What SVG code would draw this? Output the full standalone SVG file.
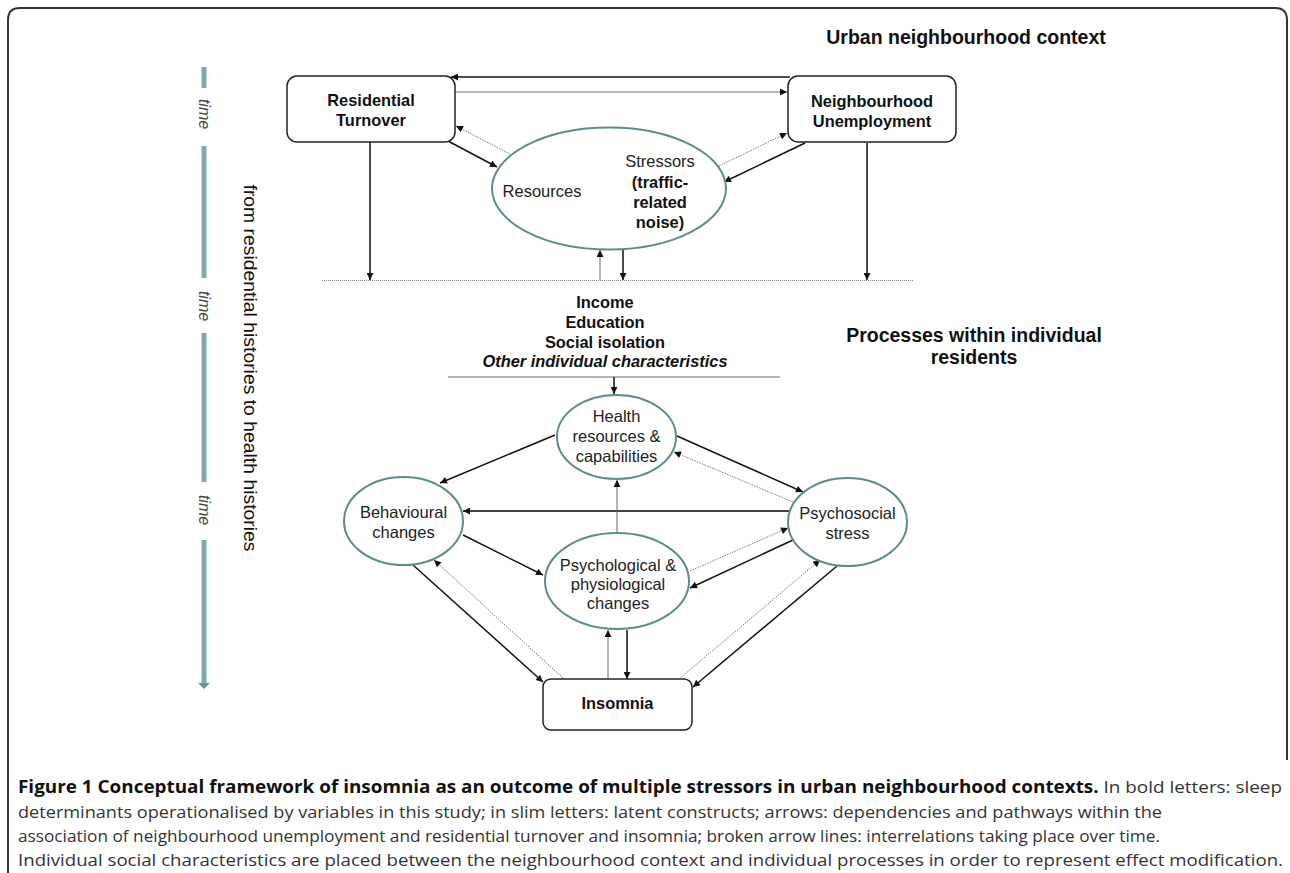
<svg xmlns="http://www.w3.org/2000/svg" width="1290" height="873" viewBox="0 0 1290 873">
<style>
.box{fill:#fff;stroke:#222;stroke-width:1.5}
.ell{fill:#fff;stroke:#5e8c8d;stroke-width:2}
.tb{font-family:"Liberation Sans",Arial,sans-serif;font-weight:bold;font-size:16.4px;fill:#111;text-anchor:middle}
.tr{font-family:"Liberation Sans",Arial,sans-serif;font-size:16.5px;fill:#222;text-anchor:middle}
.hd{font-family:"Liberation Sans",Arial,sans-serif;font-weight:bold;font-size:19.5px;fill:#111;text-anchor:middle}
.tm{font-family:"Liberation Sans",Arial,sans-serif;font-style:italic;font-size:16px;fill:#444;text-anchor:middle}
.cap{font-family:"Open Sans","Noto Sans",sans-serif;font-size:17px;fill:#333}
.solid{fill:none;stroke:#111;stroke-width:1.5;marker-end:url(#ah)}
.thin{fill:none;stroke:#666;stroke-width:1;marker-end:url(#ah)}
.dot{fill:none;stroke:#777;stroke-width:1;stroke-dasharray:1.5 1.2;marker-end:url(#ah)}
.bar{fill:#7fa9ab}
</style>
<defs>
<marker id="ah" viewBox="0 0 10 10" refX="10" refY="5" markerWidth="9" markerHeight="7" markerUnits="userSpaceOnUse" orient="auto-start-reverse">
<path d="M0,0 L10,5 L0,10 z" fill="#111"/>
</marker>
</defs>
<rect width="1290" height="873" fill="#fff"/>
<path d="M8,873 V20 Q8,8 20,8 H1275 Q1287,8 1287,20 V760" fill="none" stroke="#333" stroke-width="2"/>

<g id="timeline">
<rect class="bar" x="201.5" y="67" width="5" height="21"/>
<rect class="bar" x="201.5" y="146" width="5" height="132"/>
<rect class="bar" x="201.5" y="333" width="5" height="149"/>
<rect class="bar" x="201.5" y="540" width="5" height="144"/>
<path d="M198,683 H210 L204,689 z" fill="#6a9799"/>
<text class="tm" transform="translate(199,114) rotate(90)">time</text>
<text class="tm" transform="translate(199,306) rotate(90)">time</text>
<text class="tm" transform="translate(199,510) rotate(90)">time</text>
<text transform="translate(244,368) rotate(90)" font-family="Liberation Sans, Arial, sans-serif" font-size="17.5px" fill="#111" text-anchor="middle" textLength="367" lengthAdjust="spacingAndGlyphs">from residential histories to health histories</text>
</g>

<text class="hd" x="966" y="44">Urban neighbourhood context</text>
<text class="hd" x="974" y="342">Processes within individual</text>
<text class="hd" x="974" y="364">residents</text>

<g id="connectors">
<path class="solid" d="M790,77 H451"/>
<path class="thin" d="M455,92 H787"/>
<path class="solid" d="M448,141 L497,167"/>
<path class="dot" d="M510,154 L456,126"/>
<path class="dot" d="M719,166 L787,133"/>
<path class="solid" d="M805,143 L724,182"/>
<path class="solid" d="M370,141 V280"/>
<path class="solid" d="M867,143 V280"/>
<path class="thin" d="M600,280 V250"/>
<path class="solid" d="M623,250 V280"/>
<path d="M322,280.5 H914" stroke="#888" stroke-width="1.2" stroke-dasharray="1 1" fill="none"/>
<path class="solid" d="M589,193 H621" marker-start="url(#ah)"/>
<path d="M448,377 H780" stroke="#666" stroke-width="1" fill="none"/>
<path class="solid" d="M614,377 V394"/>
<path class="solid" d="M555,435 L440,483"/>
<path class="solid" d="M677,436 L803,492"/>
<path class="dot" d="M793,502 L674,452"/>
<path d="M789,511 H463" fill="none" stroke="#444" stroke-width="2" marker-end="url(#ah)"/>
<path class="thin" d="M617,532 V480"/>
<path class="solid" d="M463,535 L543,575"/>
<path class="dot" d="M690,571 L788,528"/>
<path class="solid" d="M793,540 L690,588"/>
<path class="solid" d="M413,565 L543,682"/>
<path class="dot" d="M563,678 L434,560"/>
<path class="thin" d="M608,679 V630"/>
<path class="solid" d="M627,630 V679"/>
<path class="dot" d="M679,679 L820,560"/>
<path class="solid" d="M837,566 L693,687"/>
</g>

<g id="residential">
<rect class="box" x="287" y="76" width="168" height="66" rx="10"/>
<text class="tb" x="371" y="106">Residential</text>
<text class="tb" x="371" y="126">Turnover</text>
</g>
<g id="neighbourhood">
<rect class="box" x="788" y="76" width="168" height="66" rx="10"/>
<text class="tb" x="872" y="107">Neighbourhood</text>
<text class="tb" x="872" y="127">Unemployment</text>
</g>
<g id="stressors">
<ellipse class="ell" cx="609" cy="188.5" rx="117" ry="61"/>
<text class="tr" x="542" y="197">Resources</text>
<text class="tr" x="660" y="167">Stressors</text>
<text class="tb" x="660" y="188">(traffic-</text>
<text class="tb" x="660" y="208">related</text>
<text class="tb" x="660" y="228">noise)</text>
</g>
<g id="individual">
<text class="tb" x="605" y="308">Income</text>
<text class="tb" x="605" y="328">Education</text>
<text class="tb" x="605" y="348">Social isolation</text>
<text class="tb" x="605" y="367" font-style="italic">Other individual characteristics</text>
</g>
<g id="health">
<ellipse class="ell" cx="616.5" cy="437" rx="59.5" ry="42"/>
<text class="tr" x="616.5" y="422">Health</text>
<text class="tr" x="616.5" y="442">resources &amp;</text>
<text class="tr" x="616.5" y="462">capabilities</text>
</g>
<g id="behavioural">
<ellipse class="ell" cx="403.5" cy="521" rx="59.5" ry="44"/>
<text class="tr" x="403.5" y="518">Behavioural</text>
<text class="tr" x="403.5" y="538">changes</text>
</g>
<g id="psychosocial">
<ellipse class="ell" cx="847.5" cy="522" rx="59.5" ry="44"/>
<text class="tr" x="847.5" y="519">Psychosocial</text>
<text class="tr" x="847.5" y="539">stress</text>
</g>
<g id="psychological">
<ellipse class="ell" cx="617" cy="581" rx="72" ry="48"/>
<text class="tr" x="618" y="571">Psychological &amp;</text>
<text class="tr" x="618" y="590">physiological</text>
<text class="tr" x="618" y="609">changes</text>
</g>
<g id="insomnia">
<rect class="box" x="543" y="679" width="149" height="51" rx="8"/>
<text class="tb" x="617.5" y="709">Insomnia</text>
</g>

<g id="caption">
<text class="cap" x="18" y="793" textLength="1264" lengthAdjust="spacingAndGlyphs"><tspan font-weight="bold" fill="#111">Figure 1 Conceptual framework of insomnia as an outcome of multiple stressors in urban neighbourhood contexts.</tspan> In bold letters: sleep</text>
<text class="cap" x="18" y="818" textLength="1144" lengthAdjust="spacingAndGlyphs">determinants operationalised by variables in this study; in slim letters: latent constructs; arrows: dependencies and pathways within the</text>
<text class="cap" x="18" y="842" textLength="1142" lengthAdjust="spacingAndGlyphs">association of neighbourhood unemployment and residential turnover and insomnia; broken arrow lines: interrelations taking place over time.</text>
<text class="cap" x="18" y="866" textLength="1265" lengthAdjust="spacingAndGlyphs">Individual social characteristics are placed between the neighbourhood context and individual processes in order to represent effect modification.</text>
</g>
</svg>
